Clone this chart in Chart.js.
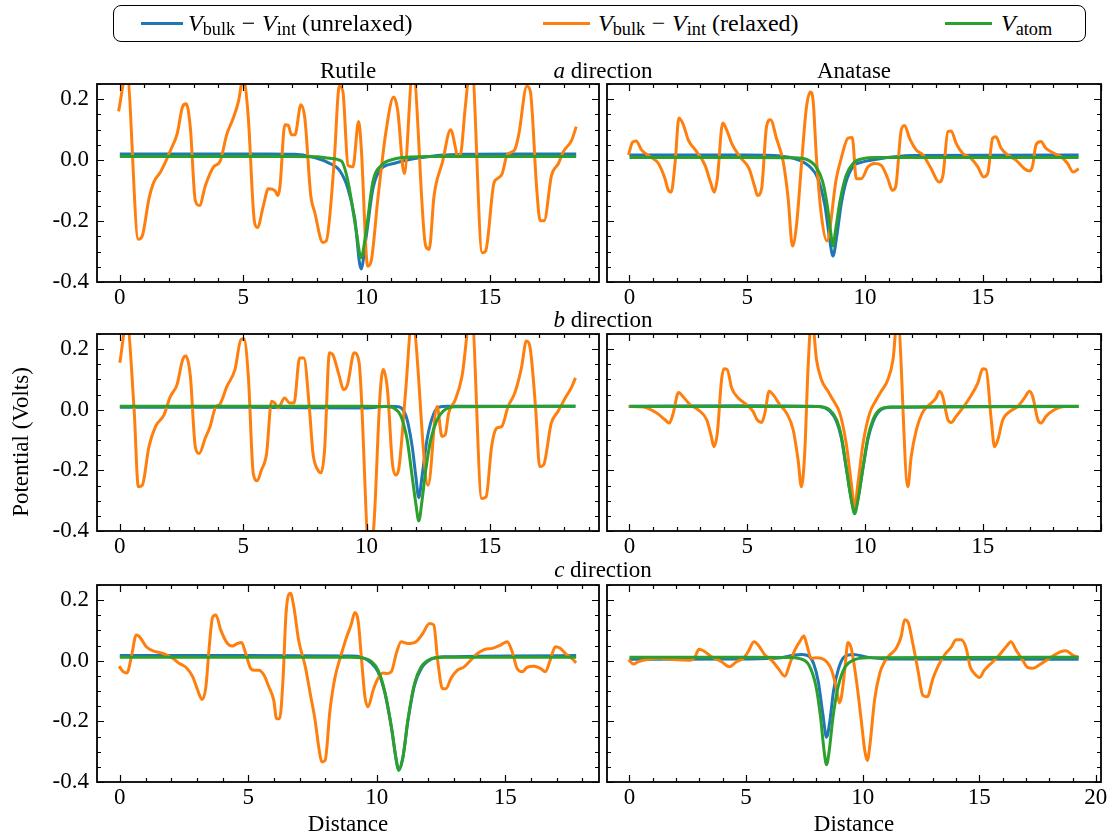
<!DOCTYPE html>
<html>
<head>
<meta charset="utf-8">
<title>Potential profiles</title>
<script src="https://cdn.jsdelivr.net/npm/chart.js@4.4.1/dist/chart.umd.min.js"></script>
<style>
  body { margin: 0; background: #fff; font-family: "Liberation Serif", "DejaVu Serif", serif; }
  #fig { position: relative; width: 1110px; height: 838px; overflow: hidden; background: #fff; }
  canvas { position: absolute; }
  .txt { position: absolute; white-space: nowrap; line-height: 1; color: #000; }
  #legend { position: absolute; left: 113px; top: 5px; width: 971px; height: 35px;
            border: 1.5px solid #000; border-radius: 8px; }
  .swatch { position: absolute; height: 3px; }
  .sub { font-size: 0.76em; position: relative; top: 0.22em; }
  .op { margin: 0 0.28em; }
</style>
</head>
<body>
<div id="fig">
  <div id="legend"></div>
</div>
<script>
// tick values
const xTicks15 = [0, 5, 10, 15];
const xTicks20 = [0, 5, 10, 15, 20];
const yTicks = [-0.4, -0.2, 0.0, 0.2];

// ---- Rutile, a direction ----
const rutA_unrelaxedX = [0, 2, 4, 6, 7.1, 7.77, 8.44, 8.9, 9.25, 9.52, 9.78, 9.99, 10.26, 10.6, 11.1, 11.8, 12.47, 13.1, 13.8, 16, 18.5];
const rutA_unrelaxed = [0.02, 0.02, 0.02, 0.02, 0.019, 0.011, -0.008, -0.033, -0.094, -0.19, -0.357, -0.25, -0.094, -0.028, -0.011, 0.003, 0.011, 0.017, 0.019, 0.02, 0.02];
const rutA_atomX = [0, 4, 7, 8, 8.5, 8.98, 9.25, 9.58, 9.78, 9.99, 10.26, 10.6, 11.1, 11.8, 12.5, 14, 18.5];
const rutA_atom = [0.012, 0.012, 0.012, 0.011, 0.006, -0.003, -0.07, -0.23, -0.32, -0.23, -0.07, -0.017, 0.003, 0.01, 0.012, 0.012, 0.012];
const rutA_relaxedX = [-0.05, 0.28, 0.75, 0.91, 1.18, 1.38, 1.65, 1.85, 2.06, 2.33, 2.55, 2.69, 2.86, 3.06, 3.23, 3.47, 3.8, 4.07, 4.33, 4.6, 4.81, 5.0, 5.2, 5.46, 5.58, 5.82, 6.02, 6.29, 6.4, 6.49, 6.69, 6.83, 6.96, 7.1, 7.34, 7.5, 7.74, 7.9, 8.23, 8.37, 8.68, 8.9, 9.04, 9.25, 9.45, 9.68, 9.78, 10.05, 10.19, 10.46, 10.79, 11.1, 11.26, 11.53, 11.88, 12.4, 12.54, 12.74, 13.08, 13.41, 13.61, 13.68, 13.82, 14.0, 14.25, 14.69, 14.83, 15.16, 15.3, 15.5, 15.7, 16.0, 16.17, 16.5, 16.64, 16.9, 17.04, 17.2, 17.5, 17.78, 17.98, 18.32, 18.5];
const rutA_relaxed = [0.16, 0.29, -0.26, -0.249, -0.127, -0.072, -0.039, -0.006, 0.033, 0.088, 0.177, 0.185, 0.105, -0.133, -0.149, -0.083, -0.022, -0.003, 0.083, 0.138, 0.193, 0.27, 0.149, -0.204, -0.221, -0.149, -0.094, -0.1, -0.116, -0.088, 0.116, 0.114, 0.083, 0.083, 0.182, 0.138, -0.116, -0.171, -0.27, -0.265, -0.017, 0.243, 0.227, -0.017, -0.022, 0.127, 0.05, -0.348, -0.331, -0.127, 0.094, 0.207, 0.166, -0.044, 0.3, -0.282, -0.293, -0.116, -0.006, 0.1, 0.039, 0.011, 0.022, 0.171, 0.33, -0.304, -0.298, -0.077, -0.061, -0.044, 0.017, 0.033, 0.083, 0.243, 0.227, -0.094, -0.199, -0.199, -0.05, -0.011, 0.028, 0.066, 0.11];

// ---- Anatase, a direction ----
const anaA_unrelaxedX = [0, 5, 6.4, 7.2, 7.7, 8.0, 8.3, 8.5, 8.64, 8.8, 9.0, 9.2, 9.5, 9.8, 10.5, 12, 19.07];
const anaA_unrelaxed = [0.017, 0.017, 0.014, 0.0, -0.025, -0.06, -0.15, -0.26, -0.315, -0.25, -0.14, -0.07, -0.02, -0.008, 0.003, 0.015, 0.017];
const anaA_atomX = [0, 5, 7, 7.5, 7.9, 8.2, 8.4, 8.55, 8.64, 8.75, 8.95, 9.2, 9.5, 9.9, 10.5, 19.07];
const anaA_atom = [0.009, 0.009, 0.008, 0.003, -0.02, -0.07, -0.15, -0.24, -0.282, -0.23, -0.13, -0.05, -0.01, 0.005, 0.009, 0.009];
const anaA_relaxedX = [-0.04, 0.13, 0.28, 0.52, 0.88, 1.23, 1.51, 1.65, 1.77, 1.94, 2.1, 2.29, 2.5, 2.85, 3.21, 3.46, 3.6, 3.73, 3.96, 4.13, 4.34, 4.69, 5.08, 5.32, 5.44, 5.61, 5.82, 5.99, 6.24, 6.53, 6.74, 6.92, 7.09, 7.3, 7.51, 7.68, 7.8, 7.94, 8.15, 8.38, 8.78, 8.99, 9.28, 9.46, 9.63, 9.84, 10.13, 10.41, 10.69, 10.97, 11.16, 11.3, 11.54, 11.68, 11.89, 12.18, 12.46, 12.81, 13.14, 13.31, 13.52, 13.66, 13.87, 14.15, 14.5, 14.79, 15.04, 15.21, 15.42, 15.56, 15.78, 16.06, 16.41, 16.77, 16.98, 17.12, 17.26, 17.47, 17.68, 18.04, 18.32, 18.6, 18.84, 19.07];
const anaA_relaxed = [0.017, 0.059, 0.063, 0.033, 0.011, -0.011, -0.061, -0.099, -0.105, -0.006, 0.138, 0.116, 0.066, 0.028, -0.017, -0.077, -0.105, -0.061, 0.122, 0.099, 0.055, 0.011, -0.028, -0.088, -0.116, -0.094, 0.11, 0.133, 0.072, -0.006, -0.127, -0.282, -0.215, -0.017, 0.171, 0.224, 0.193, 0.006, -0.182, -0.265, -0.061, 0.006, 0.072, 0.074, -0.061, -0.061, -0.022, -0.011, -0.017, -0.061, -0.099, -0.088, 0.099, 0.114, 0.072, 0.033, 0.017, -0.028, -0.072, -0.05, 0.094, 0.096, 0.055, 0.022, 0.006, -0.022, -0.055, -0.044, 0.072, 0.077, 0.039, 0.017, 0.0, -0.028, -0.036, -0.017, 0.05, 0.061, 0.039, 0.022, 0.011, -0.011, -0.039, -0.028];

// ---- Rutile, b direction ----
const rutB_unrelaxedX = [0, 5, 10, 10.9, 11.3, 11.6, 11.85, 12.0, 12.12, 12.25, 12.45, 12.65, 12.9, 13.3, 18.47];
const rutB_unrelaxed = [0.008, 0.008, 0.006, 0.012, 0.01, -0.02, -0.12, -0.22, -0.29, -0.22, -0.1, -0.03, 0.008, 0.012, 0.012];
const rutB_atomX = [0, 5, 10, 10.8, 11.1, 11.4, 11.65, 11.85, 12.0, 12.12, 12.25, 12.4, 12.6, 12.85, 13.1, 13.6, 18.47];
const rutB_atom = [0.012, 0.012, 0.012, 0.011, 0.006, -0.022, -0.1, -0.22, -0.31, -0.367, -0.3, -0.2, -0.1, -0.035, -0.005, 0.01, 0.012];
const rutB_relaxedX = [0, 0.28, 0.58, 0.75, 0.91, 1.18, 1.45, 1.79, 2.05, 2.32, 2.55, 2.68, 2.86, 3.06, 3.22, 3.46, 3.66, 3.87, 4.07, 4.34, 4.67, 4.91, 5.03, 5.21, 5.41, 5.57, 5.74, 5.95, 6.15, 6.28, 6.42, 6.68, 6.89, 7.06, 7.29, 7.46, 7.69, 7.83, 8.03, 8.16, 8.3, 8.5, 8.63, 8.9, 9.07, 9.23, 9.5, 9.7, 10.12, 10.3, 10.55, 10.68, 10.85, 11.05, 11.18, 11.32, 11.58, 11.85, 12.5, 12.86, 13.06, 13.19, 13.33, 13.6, 13.87, 14.25, 14.67, 14.85, 15.07, 15.27, 15.48, 15.74, 16.01, 16.28, 16.48, 16.62, 16.86, 17.02, 17.18, 17.49, 17.76, 18.09, 18.3, 18.47];
const rutB_relaxed = [0.155, 0.29, 0.0, -0.254, -0.249, -0.122, -0.055, -0.017, 0.044, 0.083, 0.166, 0.177, 0.11, -0.122, -0.144, -0.094, -0.055, 0.006, 0.02, 0.077, 0.133, 0.232, 0.234, 0.11, -0.21, -0.234, -0.199, -0.144, 0.028, 0.022, 0.006, 0.039, 0.022, 0.022, 0.171, 0.171, 0.0, -0.144, -0.199, -0.208, -0.133, 0.188, 0.182, 0.11, 0.066, 0.083, 0.188, 0.155, -0.48, -0.38, 0.05, 0.133, 0.066, -0.177, -0.215, -0.188, 0.055, 0.3, -0.249, 0.011, -0.088, -0.083, -0.011, 0.033, 0.11, 0.33, -0.293, -0.287, -0.122, -0.061, -0.055, 0.011, 0.055, 0.138, 0.227, 0.21, 0.0, -0.188, -0.182, -0.044, -0.006, 0.044, 0.072, 0.105];

// ---- Anatase, b direction ----
const anaB_unrelaxedX = [0, 5, 8.0, 8.5, 8.8, 9.0, 9.2, 9.42, 9.56, 9.7, 9.92, 10.13, 10.34, 10.62, 11.1, 19.07];
const anaB_unrelaxed = [0.012, 0.013, 0.011, -0.004, -0.04, -0.095, -0.19, -0.295, -0.335, -0.295, -0.19, -0.095, -0.04, -0.004, 0.008, 0.012];
const anaB_atomX = [0, 5, 8.0, 8.5, 8.8, 9.0, 9.2, 9.42, 9.56, 9.7, 9.92, 10.13, 10.34, 10.62, 11.1, 19.07];
const anaB_atom = [0.011, 0.011, 0.011, 0.0, -0.033, -0.088, -0.188, -0.298, -0.343, -0.298, -0.188, -0.088, -0.033, 0.0, 0.009, 0.011];
const anaB_relaxedX = [-0.04, 0.59, 1.16, 1.51, 1.69, 1.86, 2.08, 2.29, 2.57, 2.92, 3.28, 3.46, 3.59, 3.73, 3.91, 4.01, 4.15, 4.34, 4.62, 4.97, 5.25, 5.42, 5.61, 5.75, 5.93, 6.1, 6.38, 6.67, 6.95, 7.16, 7.3, 7.44, 7.58, 7.74, 7.94, 8.15, 8.43, 8.64, 8.93, 9.2, 9.42, 9.56, 9.7, 9.92, 10.2, 10.48, 10.69, 10.97, 11.19, 11.38, 11.82, 11.96, 12.18, 12.43, 12.74, 13.02, 13.16, 13.3, 13.52, 13.66, 13.87, 14.15, 14.44, 14.79, 15.0, 15.14, 15.36, 15.5, 15.64, 15.85, 16.14, 16.48, 16.77, 16.98, 17.12, 17.34, 17.47, 17.68, 18.04, 18.46, 19.07];
const anaB_relaxed = [0.011, 0.009, -0.011, -0.033, -0.044, -0.011, 0.057, 0.042, 0.017, 0.0, -0.033, -0.083, -0.122, -0.077, 0.099, 0.135, 0.133, 0.072, 0.039, 0.017, -0.006, -0.033, -0.042, -0.011, 0.061, 0.05, 0.017, -0.011, -0.066, -0.166, -0.254, -0.144, 0.133, 0.31, 0.166, 0.099, 0.061, 0.033, -0.011, -0.11, -0.243, -0.32, -0.243, -0.11, -0.011, 0.033, 0.061, 0.099, 0.166, 0.31, -0.254, -0.155, -0.066, -0.011, 0.017, 0.039, 0.061, 0.044, -0.033, -0.042, -0.022, 0.006, 0.039, 0.088, 0.135, 0.133, -0.033, -0.122, -0.099, -0.033, -0.006, 0.011, 0.039, 0.061, 0.044, -0.033, -0.044, -0.022, 0.0, 0.011, 0.011];

// ---- Rutile, c direction ----
const rutC_unrelaxedX = [0, 5, 9.0, 9.4, 9.8, 10.05, 10.3, 10.57, 10.76, 10.85, 11.02, 11.21, 11.47, 11.73, 12.1, 12.6, 17.76];
const rutC_unrelaxed = [0.017, 0.017, 0.016, 0.012, -0.008, -0.037, -0.1, -0.22, -0.328, -0.36, -0.318, -0.2, -0.08, -0.026, 0.004, 0.013, 0.017];
const rutC_atomX = [0, 5, 9.0, 9.4, 9.8, 10.05, 10.3, 10.57, 10.76, 10.85, 11.02, 11.21, 11.47, 11.73, 12.1, 12.6, 17.76];
const rutC_atom = [0.012, 0.012, 0.012, 0.01, -0.003, -0.031, -0.097, -0.218, -0.328, -0.362, -0.318, -0.196, -0.075, -0.02, 0.006, 0.012, 0.012];
const rutC_relaxedX = [-0.03, 0.13, 0.28, 0.45, 0.64, 0.77, 1.03, 1.29, 1.68, 2.06, 2.32, 2.58, 2.84, 3.03, 3.2, 3.35, 3.48, 3.61, 3.74, 3.93, 4.19, 4.38, 4.58, 4.74, 4.9, 5.09, 5.22, 5.41, 5.61, 5.8, 5.99, 6.1, 6.22, 6.35, 6.47, 6.64, 6.77, 6.96, 7.22, 7.41, 7.6, 7.76, 7.86, 7.99, 8.18, 8.38, 8.63, 8.83, 9.0, 9.15, 9.28, 9.41, 9.54, 9.66, 9.86, 10.05, 10.24, 10.41, 10.57, 10.76, 10.95, 11.21, 11.53, 11.79, 12.05, 12.22, 12.37, 12.56, 12.69, 12.89, 13.14, 13.4, 13.66, 13.92, 14.18, 14.5, 14.82, 15.08, 15.27, 15.46, 15.66, 15.85, 16.11, 16.37, 16.56, 16.75, 16.95, 17.14, 17.4, 17.59, 17.76];
const rutC_relaxed = [-0.018, -0.036, -0.04, 0.013, 0.085, 0.079, 0.046, 0.033, 0.024, 0.008, -0.009, -0.022, -0.053, -0.097, -0.128, -0.086, 0.046, 0.143, 0.151, 0.101, 0.057, 0.049, 0.057, 0.06, 0.024, -0.025, -0.031, -0.031, -0.047, -0.086, -0.13, -0.191, -0.191, -0.064, 0.157, 0.223, 0.179, 0.068, -0.02, -0.108, -0.196, -0.295, -0.334, -0.329, -0.163, -0.053, 0.024, 0.079, 0.118, 0.159, 0.129, 0.002, -0.119, -0.152, -0.097, -0.058, -0.04, -0.042, -0.036, 0.024, 0.063, 0.057, 0.063, 0.09, 0.123, 0.118, 0.002, -0.092, -0.092, -0.058, -0.031, -0.02, 0.002, 0.024, 0.037, 0.041, 0.052, 0.063, 0.03, -0.025, -0.036, -0.022, -0.018, -0.025, -0.036, 0.002, 0.046, 0.041, 0.019, 0.008, -0.007];

// ---- Anatase, c direction ----
const anaC_unrelaxedX = [0, 5, 6.5, 7.0, 7.4, 7.7, 7.9, 8.1, 8.3, 8.45, 8.6, 8.75, 8.95, 9.2, 9.6, 10.2, 11, 19.26];
const anaC_unrelaxed = [0.005, 0.006, 0.01, 0.018, 0.021, 0.015, -0.01, -0.07, -0.18, -0.252, -0.195, -0.1, -0.03, 0.012, 0.021, 0.012, 0.006, 0.005];
const anaC_atomX = [0, 5, 6.8, 7.3, 7.7, 8.0, 8.2, 8.35, 8.45, 8.56, 8.73, 8.95, 9.25, 9.6, 10.2, 19.26];
const anaC_atom = [0.012, 0.012, 0.011, 0.007, -0.015, -0.085, -0.19, -0.3, -0.343, -0.3, -0.185, -0.085, -0.02, 0.002, 0.01, 0.012];
const anaC_relaxedX = [-0.04, 0.17, 0.39, 0.74, 1.31, 1.88, 2.6, 2.81, 2.98, 3.17, 3.52, 3.95, 4.28, 4.59, 4.88, 5.09, 5.34, 5.52, 5.81, 6.09, 6.38, 6.66, 6.88, 7.09, 7.3, 7.48, 7.59, 7.8, 8.02, 8.23, 8.45, 8.67, 8.86, 9.0, 9.09, 9.23, 9.37, 9.51, 9.73, 9.94, 10.09, 10.2, 10.3, 10.51, 10.73, 10.94, 11.16, 11.44, 11.65, 11.8, 11.94, 12.15, 12.37, 12.58, 12.77, 13.01, 13.22, 13.51, 13.79, 14.01, 14.22, 14.44, 14.61, 14.79, 15.01, 15.22, 15.58, 15.86, 16.15, 16.36, 16.58, 16.86, 17.07, 17.29, 17.57, 17.93, 18.22, 18.5, 18.72, 19.0, 19.26];
const anaC_relaxed = [0.004, -0.011, -0.003, 0.004, 0.008, 0.004, 0.002, 0.013, 0.038, 0.033, 0.013, -0.003, -0.02, -0.003, 0.008, 0.03, 0.063, 0.052, 0.019, 0.002, -0.025, -0.051, -0.009, 0.035, 0.063, 0.082, 0.057, 0.008, 0.01, 0.008, -0.003, -0.031, -0.086, -0.139, -0.119, -0.031, 0.06, 0.041, -0.064, -0.197, -0.296, -0.329, -0.285, -0.13, -0.042, -0.003, 0.019, 0.041, 0.08, 0.135, 0.129, 0.057, -0.031, -0.114, -0.119, -0.059, -0.02, 0.019, 0.044, 0.069, 0.069, 0.041, -0.02, -0.042, -0.055, -0.031, -0.003, 0.019, 0.046, 0.063, 0.035, 0.002, -0.022, -0.025, -0.014, 0.004, 0.019, 0.03, 0.033, 0.019, 0.011];

const BLUE = '#1f77b4', ORANGE = '#ff7f0e', GREEN = '#2ca02c';
const FONT = '"Liberation Serif", "DejaVu Serif", serif';
Chart.defaults.font.family = FONT;
Chart.defaults.color = '#000';

// frame and inward ticks on all four sides, like the matplotlib style
const frameTicks = {
  id: 'frameTicks',
  afterDraw(chart) {
    const ctx = chart.ctx, a = chart.chartArea;
    const x = chart.scales.x, y = chart.scales.y;
    ctx.save();
    ctx.strokeStyle = '#000';
    ctx.lineWidth = 1.2;
    ctx.beginPath();
    for (let v = Math.ceil(x.min); v <= x.max; v++) {
      const px = Math.round(x.getPixelForValue(v)) + 0.5;
      const len = v % 5 === 0 ? 7 : 4;
      ctx.moveTo(px, a.bottom); ctx.lineTo(px, a.bottom - len);
      ctx.moveTo(px, a.top); ctx.lineTo(px, a.top + len);
    }
    for (let i = -8; i <= 5; i++) {
      const py = Math.round(y.getPixelForValue(i * 0.05)) + 0.5;
      const len = i % 4 === 0 ? 7 : 4;
      ctx.moveTo(a.left, py); ctx.lineTo(a.left + len, py);
      ctx.moveTo(a.right, py); ctx.lineTo(a.right - len, py);
    }
    ctx.stroke();
    ctx.lineWidth = 1.8;
    ctx.strokeRect(a.left, a.top, a.right - a.left, a.bottom - a.top);
    ctx.restore();
  }
};

function pts(xs, ys) {
  return xs.map(function (v, i) { return { x: v, y: ys[i] }; });
}

const colLeft = [97, 607], colWidth = [502, 494];
const rowTop = [84, 334, 585], rowHeight = [198, 197, 197];
const PAD_TOP = 26, PAD_RIGHT = 16, XAXIS_H = 30;

const panels = [
  { col: 0, row: 0, xMin: -0.925, xMax: 19.425, xTicks: xTicks15,
    u: [rutA_unrelaxedX, rutA_unrelaxed], r: [rutA_relaxedX, rutA_relaxed], a: [rutA_atomX, rutA_atom] },
  { col: 1, row: 0, xMin: -0.953, xMax: 20.02, xTicks: xTicks15,
    u: [anaA_unrelaxedX, anaA_unrelaxed], r: [anaA_relaxedX, anaA_relaxed], a: [anaA_atomX, anaA_atom] },
  { col: 0, row: 1, xMin: -0.925, xMax: 19.425, xTicks: xTicks15,
    u: [rutB_unrelaxedX, rutB_unrelaxed], r: [rutB_relaxedX, rutB_relaxed], a: [rutB_atomX, rutB_atom] },
  { col: 1, row: 1, xMin: -0.953, xMax: 20.02, xTicks: xTicks15,
    u: [anaB_unrelaxedX, anaB_unrelaxed], r: [anaB_relaxedX, anaB_relaxed], a: [anaB_atomX, anaB_atom] },
  { col: 0, row: 2, xMin: -0.888, xMax: 18.65, xTicks: xTicks15,
    u: [rutC_unrelaxedX, rutC_unrelaxed], r: [rutC_relaxedX, rutC_relaxed], a: [rutC_atomX, rutC_atom] },
  { col: 1, row: 2, xMin: -0.963, xMax: 20.22, xTicks: xTicks20,
    u: [anaC_unrelaxedX, anaC_unrelaxed], r: [anaC_relaxedX, anaC_relaxed], a: [anaC_atomX, anaC_atom] }
];

const fig = document.getElementById('fig');

panels.forEach(function (p) {
  const yW = p.col === 0 ? 60 : 4;
  const frameW = colWidth[p.col], frameH = rowHeight[p.row];
  const cv = document.createElement('canvas');
  const w = yW + frameW + PAD_RIGHT, h = PAD_TOP + frameH + XAXIS_H;
  cv.width = w; cv.height = h;
  cv.style.width = w + 'px'; cv.style.height = h + 'px';
  cv.style.left = (colLeft[p.col] - yW) + 'px';
  cv.style.top = (rowTop[p.row] - PAD_TOP) + 'px';
  fig.appendChild(cv);

  const line = { borderWidth: 3, pointRadius: 0, fill: false, cubicInterpolationMode: 'monotone', clip: 0 };
  new Chart(cv.getContext('2d'), {
    type: 'line',
    data: {
      datasets: [
        Object.assign({ data: pts(p.u[0], p.u[1]), borderColor: BLUE, order: 3 }, line),
        Object.assign({ data: pts(p.r[0], p.r[1]), borderColor: ORANGE, order: 2 }, line),
        Object.assign({ data: pts(p.a[0], p.a[1]), borderColor: GREEN, order: 1 }, line)
      ]
    },
    options: {
      responsive: false,
      animation: false,
      events: [],
      layout: { padding: { top: PAD_TOP, right: PAD_RIGHT, left: 0, bottom: 0 } },
      plugins: { legend: { display: false }, tooltip: { enabled: false } },
      scales: {
        x: {
          type: 'linear', min: p.xMin, max: p.xMax,
          grid: { display: false, drawTicks: false },
          border: { display: false },
          afterBuildTicks: function (s) { s.ticks = p.xTicks.map(function (v) { return { value: v }; }); },
          afterFit: function (s) { s.height = XAXIS_H; },
          ticks: { font: { size: 23 }, padding: 2, maxRotation: 0, autoSkip: false }
        },
        y: {
          min: -0.4, max: 0.25,
          grid: { display: false, drawTicks: false },
          border: { display: false },
          afterBuildTicks: function (s) { s.ticks = yTicks.map(function (v) { return { value: v }; }); },
          afterFit: function (s) { s.width = yW; },
          ticks: {
            display: p.col === 0, font: { size: 23 }, padding: 8,
            callback: function (v) { return v.toFixed(1); }
          }
        }
      }
    },
    plugins: [frameTicks]
  });
});

// text placed by its baseline
function addText(html, x, baseline, size) {
  const d = document.createElement('div');
  d.className = 'txt';
  d.innerHTML = html;
  d.style.fontSize = size + 'px';
  d.style.left = x + 'px';
  d.style.top = (baseline - 0.8375 * size) + 'px';
  d.style.transform = 'translateX(-50%)';
  fig.appendChild(d);
  return d;
}

addText('Rutile', 348, 78, 23);
addText('Anatase', 854, 78, 23);
addText('<i>a</i> direction', 603, 78, 23);
addText('<i>b</i> direction', 603, 327, 23);
addText('<i>c</i> direction', 603, 577, 23);
addText('Distance', 348, 831, 23);
addText('Distance', 854, 831, 23);

const yTitle = document.createElement('div');
yTitle.className = 'txt';
yTitle.textContent = 'Potential (Volts)';
yTitle.style.fontSize = '23px';
yTitle.style.left = '20px';
yTitle.style.top = '442px';
yTitle.style.transform = 'translate(-50%, -50%) rotate(-90deg)';
fig.appendChild(yTitle);

// legend
const legendItems = [
  { color: BLUE, x0: 141, x1: 183, tx: 188, html: '<i>V</i><span class="sub">bulk</span><span class="op">&minus;</span><i>V</i><span class="sub">int</span> (unrelaxed)' },
  { color: ORANGE, x0: 543, x1: 590, tx: 598, html: '<i>V</i><span class="sub">bulk</span><span class="op">&minus;</span><i>V</i><span class="sub">int</span> (relaxed)' },
  { color: GREEN, x0: 945, x1: 992, tx: 1001, html: '<i>V</i><span class="sub">atom</span>' }
];
legendItems.forEach(function (it) {
  const s = document.createElement('div');
  s.className = 'swatch';
  s.style.left = it.x0 + 'px';
  s.style.width = (it.x1 - it.x0) + 'px';
  s.style.top = '22px';
  s.style.background = it.color;
  fig.appendChild(s);
  const t = addText(it.html, it.tx, 31, 24);
  t.style.transform = 'none';
});
</script>
</body>
</html>
